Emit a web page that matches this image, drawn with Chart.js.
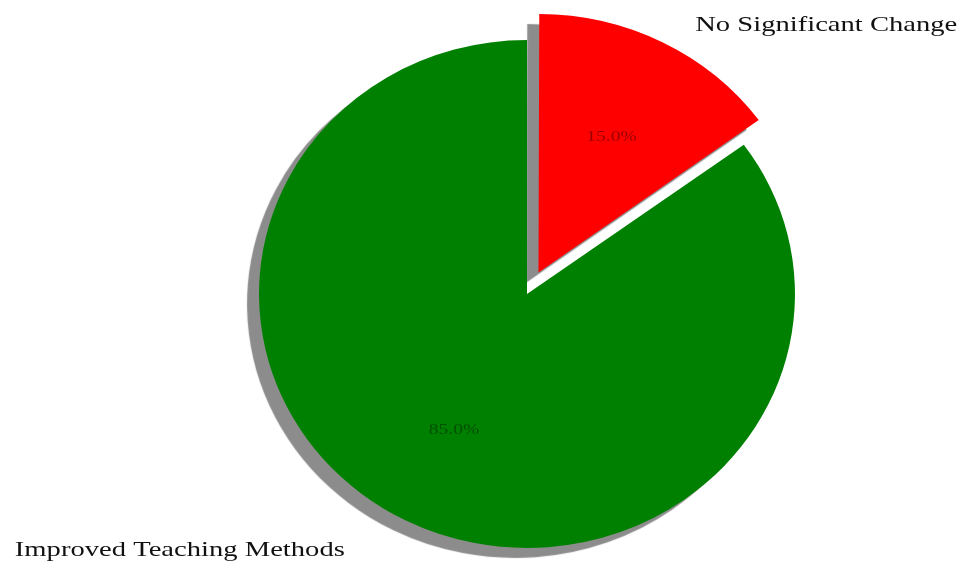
<!DOCTYPE html>
<html>
<head>
<meta charset="utf-8">
<script src="https://cdn.jsdelivr.net/npm/chart.js@4.4.0/dist/chart.umd.min.js"></script>
<style>
  html, body { margin: 0; padding: 0; background: #fff; }
  #wrap { width: 964px; height: 570px; position: relative; }
</style>
</head>
<body>
<div id="wrap"><canvas id="pie"></canvas></div>
<script>
const categories = ['No Significant Change', 'Improved Teaching Methods'];
const shares = [15, 85];
const sliceColors = ['#ff0000', '#008000'];
const explode = [24, 0]; // px the slice is pulled out

const stretchX = 1.055; // the pie in the picture is a little wider than tall

// gray drop shadow + slight horizontal stretch of the pie
const shadowPlugin = {
  id: 'shadow',
  beforeDatasetsDraw(chart) {
    const ctx = chart.ctx;
    const a = chart.chartArea;
    const cx = (a.left + a.right) / 2;
    ctx.save();
    ctx.translate(cx, 0);
    ctx.scale(stretchX, 1);
    ctx.translate(-cx, 0);
    ctx.shadowColor = '#8c8c8c';
    ctx.shadowOffsetX = -12;
    ctx.shadowOffsetY = 10;
    ctx.shadowBlur = 1;
  },
  afterDatasetsDraw(chart) {
    chart.ctx.restore();
  }
};

function drawWide(ctx, text, x, y, align, sx) {
  ctx.save();
  ctx.translate(x, y);
  ctx.scale(sx, 1);
  ctx.textAlign = align;
  ctx.fillText(text, 0, 0);
  ctx.restore();
}

// outer category labels and inner percentages
const labelPlugin = {
  id: 'pieLabels',
  afterDraw(chart) {
    const ctx = chart.ctx;
    const meta = chart.getDatasetMeta(0);
    const total = shares.reduce((a, b) => a + b, 0);
    meta.data.forEach((arc, i) => {
      const p = arc.getProps(['x', 'y', 'startAngle', 'endAngle', 'outerRadius']);
      const mid = (p.startAngle + p.endAngle) / 2;
      const off = explode[i];
      const cos = Math.cos(mid) * stretchX, sin = Math.sin(mid);
      const cx = p.x + cos * off;
      const cy = p.y + sin * off;
      const r = p.outerRadius;

      ctx.save();
      ctx.textBaseline = 'middle';
      ctx.font = '15px "Liberation Serif"';
      ctx.fillStyle = 'rgba(0,0,0,0.4)';
      const pct = (shares[i] / total * 100).toFixed(1) + '%';
      drawWide(ctx, pct, cx + cos * r * 0.6, cy + sin * r * 0.6, 'center', 1.3);

      ctx.font = '22px "Liberation Serif"';
      ctx.fillStyle = '#111';
      const lx = p.x + cos * r * 1.44 - 7;
      const ly = p.y + sin * r * 1.16 - 6;
      drawWide(ctx, categories[i], lx, ly, cos >= 0 ? 'left' : 'right', 1.3);
      ctx.restore();
    });
  }
};

new Chart(document.getElementById('pie'), {
  type: 'pie',
  data: {
    labels: categories,
    datasets: [{
      data: shares,
      backgroundColor: sliceColors,
      borderWidth: 0,
      // Chart.js v4 moves an arc by offset/4
      offset: explode.map(v => v * 4)
    }]
  },
  options: {
    responsive: true,
    maintainAspectRatio: false,
    animation: false,
    radius: 254,
    layout: { padding: { left: 227, right: 137, top: 18, bottom: 0 } },
    plugins: {
      legend: { display: false },
      tooltip: { enabled: false }
    }
  },
  plugins: [shadowPlugin, labelPlugin]
});
</script>
</body>
</html>
